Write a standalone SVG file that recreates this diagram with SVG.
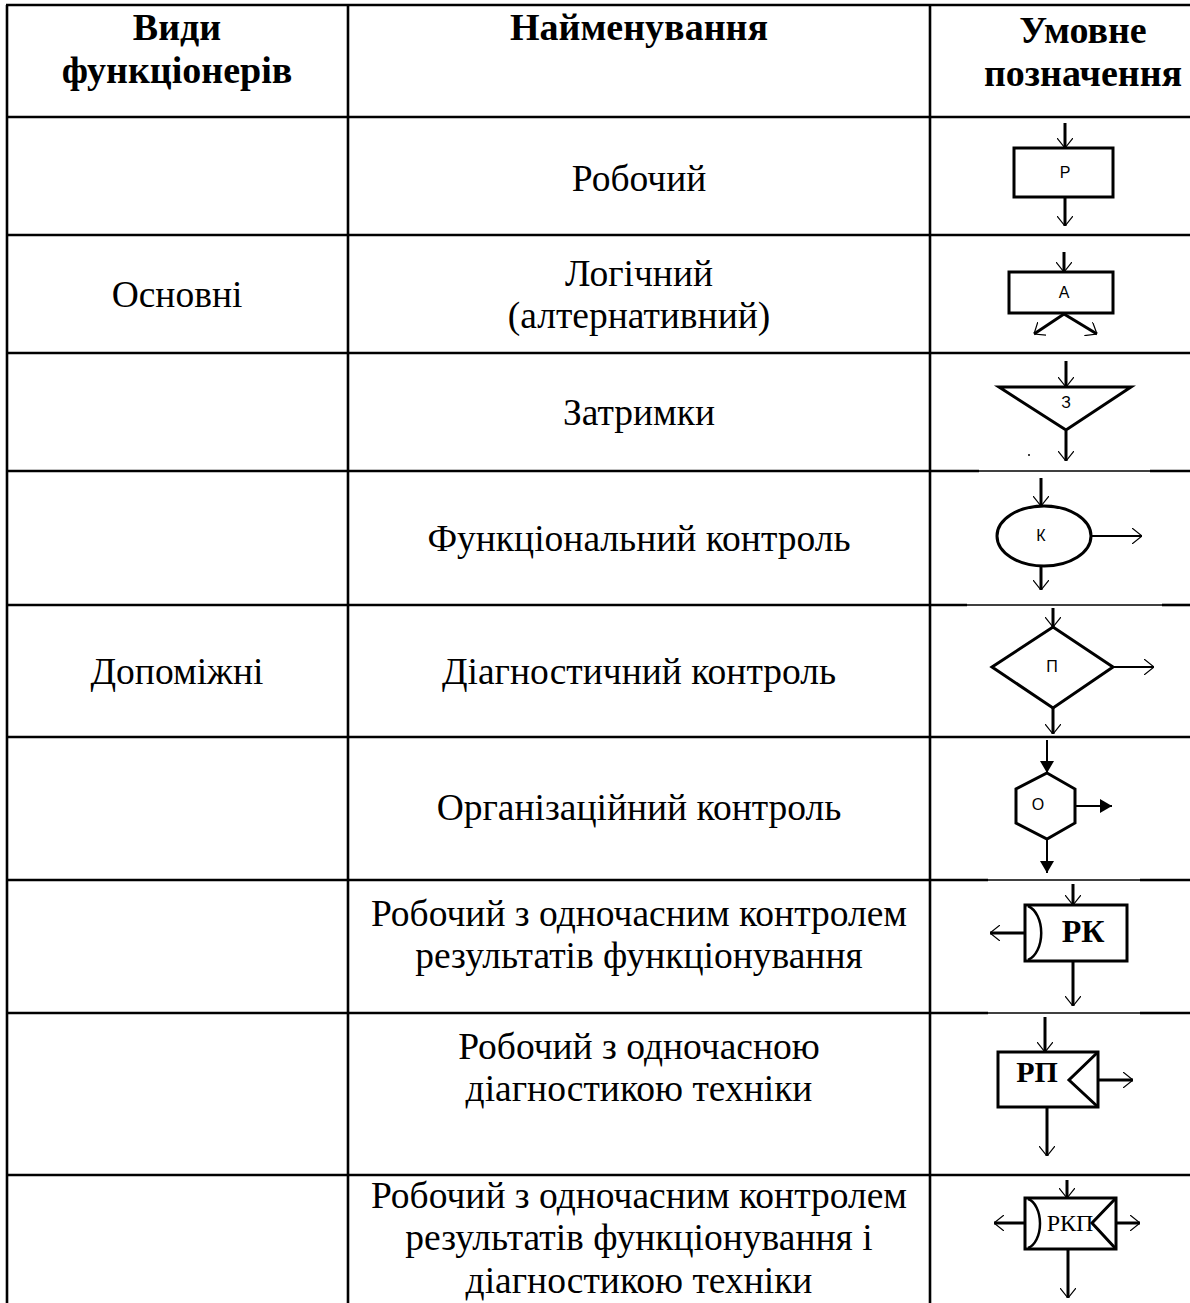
<svg xmlns="http://www.w3.org/2000/svg" width="1190" height="1303" viewBox="0 0 1190 1303">
  <defs>
    <style>
      .grid { stroke: #000; stroke-width: 2.6; fill: none; }
      .grid-thin { stroke: #000; stroke-width: 1.4; fill: none; }
      .hdr { font-family: "Liberation Serif", "Times New Roman", serif; font-size: 38px; font-weight: bold; fill: #000; text-anchor: middle; }
      .cell { font-family: "Liberation Serif", "Times New Roman", serif; font-size: 37.5px; fill: #000; text-anchor: middle; }
      .shape { stroke: #000; stroke-width: 3; fill: #fff; }
      .shaft { stroke: #000; stroke-width: 3; fill: none; }
      .shaft-thin { stroke: #000; stroke-width: 2; fill: none; }
      .tag { font-family: "Liberation Sans", Arial, sans-serif; font-size: 16px; fill: #000; text-anchor: middle; }
      .tag-serif { font-family: "Liberation Serif", "Times New Roman", serif; fill: #000; text-anchor: middle; }
    </style>
    <marker id="open" viewBox="0 0 10 16" refX="10" refY="8" markerWidth="10" markerHeight="16" markerUnits="userSpaceOnUse" orient="auto">
      <path d="M0,0 L10,8 L0,16" fill="none" stroke="#000" stroke-width="1.2"/>
    </marker>
    <marker id="solid" viewBox="0 0 12 14" refX="12" refY="7" markerWidth="12" markerHeight="14" markerUnits="userSpaceOnUse" orient="auto">
      <path d="M0,0 L12,7 L0,14 Z" fill="#000"/>
    </marker>
  </defs>

  <rect x="0" y="0" width="1190" height="1303" fill="#fff"/>

  <!-- table grid -->
  <g id="grid">
    <line class="grid" x1="7" y1="5" x2="7" y2="1303"/>
    <line class="grid" x1="348" y1="5" x2="348" y2="1303"/>
    <line class="grid" x1="930" y1="5" x2="930" y2="1303"/>
    <line class="grid" x1="6" y1="5" x2="1190" y2="5"/>
    <line class="grid" x1="6" y1="117" x2="1190" y2="117"/>
    <line class="grid" x1="6" y1="235" x2="1190" y2="235"/>
    <line class="grid" x1="6" y1="353" x2="1190" y2="353"/>
    <line class="grid" x1="6" y1="471" x2="979" y2="471"/>
    <line class="grid-thin" x1="979" y1="471" x2="1150" y2="471"/>
    <line class="grid" x1="1150" y1="471" x2="1190" y2="471"/>
    <line class="grid" x1="6" y1="605" x2="967" y2="605"/>
    <line class="grid-thin" x1="967" y1="605" x2="1162" y2="605"/>
    <line class="grid" x1="1162" y1="605" x2="1190" y2="605"/>
    <line class="grid" x1="6" y1="737" x2="1190" y2="737"/>
    <line class="grid" x1="6" y1="880" x2="988" y2="880"/>
    <line class="grid-thin" x1="988" y1="880" x2="1140" y2="880"/>
    <line class="grid" x1="1140" y1="880" x2="1190" y2="880"/>
    <line class="grid" x1="6" y1="1013" x2="988" y2="1013"/>
    <line class="grid-thin" x1="988" y1="1013" x2="1140" y2="1013"/>
    <line class="grid" x1="1140" y1="1013" x2="1190" y2="1013"/>
    <line class="grid" x1="6" y1="1175" x2="1190" y2="1175"/>
  </g>

  <!-- header row -->
  <g id="header">
    <text class="hdr" x="177" y="40">Види</text>
    <text class="hdr" x="177" y="83">функціонерів</text>
    <text class="hdr" x="639" y="40">Найменування</text>
    <text class="hdr" x="1083" y="43">Умовне</text>
    <text class="hdr" x="1083" y="86">позначення</text>
  </g>

  <!-- group labels -->
  <g id="groups">
    <text class="cell" x="177" y="307">Основні</text>
    <text class="cell" x="177" y="684">Допоміжні</text>
  </g>

  <!-- names -->
  <g id="names">
    <text class="cell" x="639" y="191">Робочий</text>
    <text class="cell" x="639" y="286">Логічний</text>
    <text class="cell" x="639" y="328">(алтернативний)</text>
    <text class="cell" x="639" y="425">Затримки</text>
    <text class="cell" x="639" y="551">Функціональний контроль</text>
    <text class="cell" x="639" y="684">Діагностичний контроль</text>
    <text class="cell" x="639" y="820">Організаційний контроль</text>
    <text class="cell" x="639" y="926">Робочий з одночасним контролем</text>
    <text class="cell" x="639" y="968">результатів функціонування</text>
    <text class="cell" x="639" y="1059">Робочий з одночасною</text>
    <text class="cell" x="639" y="1101">діагностикою техніки</text>
    <text class="cell" x="639" y="1208">Робочий з одночасним контролем</text>
    <text class="cell" x="639" y="1250">результатів функціонування і</text>
    <text class="cell" x="639" y="1293">діагностикою техніки</text>
  </g>

  <!-- symbol: working (Р) -->
  <g id="sym-working">
    <rect class="shape" x="1014" y="148" width="99" height="49"/>
    <text class="tag" x="1065" y="178">Р</text>
  </g>

  <!-- symbol: logical (А) -->
  <g id="sym-logical">
    <rect class="shape" x="1009" y="272" width="104" height="41"/>
    <text class="tag" x="1064" y="298">А</text>
  </g>

  <!-- symbol: delay (З) -->
  <g id="sym-delay">
    <polygon class="shape" points="999,387 1131,387 1066,430" stroke-width="4"/>
    <text class="tag" x="1066" y="408">З</text>
    <circle cx="1029" cy="455" r="1" fill="#000"/>
  </g>

  <!-- symbol: functional check (К) -->
  <g id="sym-functional">
    <ellipse class="shape" cx="1044" cy="536" rx="47" ry="30"/>
    <text class="tag" x="1041" y="541">К</text>
  </g>

  <!-- symbol: diagnostic check (П) -->
  <g id="sym-diagnostic">
    <polygon class="shape" points="992,667 1053,627 1113,667 1053,708" stroke-width="3.5"/>
    <text class="tag" x="1052" y="672">П</text>
  </g>

  <!-- symbol: organisational check (О) -->
  <g id="sym-organisational">
    <polygon class="shape" points="1047,773 1075,789 1075,823 1047,839 1016,823 1016,789" stroke-width="2.5" stroke="#222"/>
    <text class="tag" x="1038" y="810" font-size="12">О</text>
  </g>

  <!-- symbol: working with result check (РК) -->
  <g id="sym-rk">
    <rect class="shape" x="1025" y="905" width="102" height="56"/>
    <path d="M1028,906 A18,28 0 0 1 1028,960" fill="none" stroke="#000" stroke-width="2.5"/>
    <text class="tag-serif" x="1083" y="942" font-size="32" font-weight="bold">РК</text>
  </g>

  <!-- symbol: working with diagnostics (РП) -->
  <g id="sym-rp">
    <rect class="shape" x="998" y="1052" width="100" height="55"/>
    <path d="M1098,1052 L1069,1080 L1098,1107" fill="none" stroke="#000" stroke-width="3"/>
    <text class="tag-serif" x="1037" y="1082" font-size="30" font-weight="bold">РП</text>
  </g>

  <!-- symbol: working with result check and diagnostics (РКП) -->
  <g id="sym-rkp">
    <rect class="shape" x="1025" y="1198" width="91" height="51"/>
    <path d="M1028,1199 A15,25 0 0 1 1028,1248" fill="none" stroke="#000" stroke-width="2.5"/>
    <text class="tag-serif" x="1070" y="1231" font-size="24">РКП</text>
    <path d="M1116,1198 L1092,1223 L1116,1249" fill="none" stroke="#000" stroke-width="3"/>
  </g>

  <!-- connectors (flow arrows of every symbol) -->
  <g id="connectors">
    <!-- Р -->
    <line class="shaft" x1="1065" y1="123" x2="1065" y2="148" marker-end="url(#open)"/>
    <line class="shaft" x1="1065" y1="198" x2="1065" y2="226" marker-end="url(#open)"/>
    <!-- А -->
    <line class="shaft" x1="1064" y1="252" x2="1064" y2="272" marker-end="url(#open)"/>
    <line class="shaft" x1="1064" y1="314" x2="1034" y2="334" marker-end="url(#open)"/>
    <line class="shaft" x1="1064" y1="314" x2="1097" y2="334" marker-end="url(#open)"/>
    <!-- З -->
    <line class="shaft" x1="1066" y1="361" x2="1066" y2="387" stroke-width="4" marker-end="url(#open)"/>
    <line class="shaft" x1="1066" y1="431" x2="1066" y2="461" stroke-width="4" marker-end="url(#open)"/>
    <!-- К -->
    <line class="shaft" x1="1041" y1="478" x2="1041" y2="506" marker-end="url(#open)"/>
    <line class="shaft-thin" x1="1091" y1="536" x2="1142" y2="536" marker-end="url(#open)"/>
    <line class="shaft" x1="1041" y1="566" x2="1041" y2="590" marker-end="url(#open)"/>
    <!-- П -->
    <line class="shaft" x1="1053" y1="608" x2="1053" y2="627" marker-end="url(#open)"/>
    <line class="shaft-thin" x1="1113" y1="667" x2="1154" y2="667" marker-end="url(#open)"/>
    <line class="shaft" x1="1053" y1="708" x2="1053" y2="734" marker-end="url(#open)"/>
    <!-- О -->
    <line class="shaft-thin" x1="1047" y1="740" x2="1047" y2="773" marker-end="url(#solid)"/>
    <line class="shaft-thin" x1="1075" y1="806" x2="1112" y2="806" marker-end="url(#solid)"/>
    <line class="shaft-thin" x1="1047" y1="839" x2="1047" y2="873" marker-end="url(#solid)"/>
    <!-- РК -->
    <line class="shaft" x1="1073" y1="884" x2="1073" y2="905" marker-end="url(#open)"/>
    <line class="shaft" x1="1073" y1="961" x2="1073" y2="1006" marker-end="url(#open)"/>
    <line class="shaft" x1="1025" y1="933" x2="990" y2="933" marker-end="url(#open)"/>
    <!-- РП -->
    <line class="shaft" x1="1045" y1="1017" x2="1045" y2="1052" marker-end="url(#open)"/>
    <line class="shaft" x1="1047" y1="1107" x2="1047" y2="1156" marker-end="url(#open)"/>
    <line class="shaft" x1="1098" y1="1080" x2="1133" y2="1080" stroke-width="4" marker-end="url(#open)"/>
    <!-- РКП -->
    <line class="shaft" x1="1067" y1="1180" x2="1067" y2="1198" marker-end="url(#open)"/>
    <line class="shaft" x1="1068" y1="1249" x2="1068" y2="1298" marker-end="url(#open)"/>
    <line class="shaft" x1="1025" y1="1223" x2="994" y2="1223" marker-end="url(#open)"/>
    <line class="shaft" x1="1116" y1="1223" x2="1140" y2="1223" marker-end="url(#open)"/>
  </g>
</svg>
